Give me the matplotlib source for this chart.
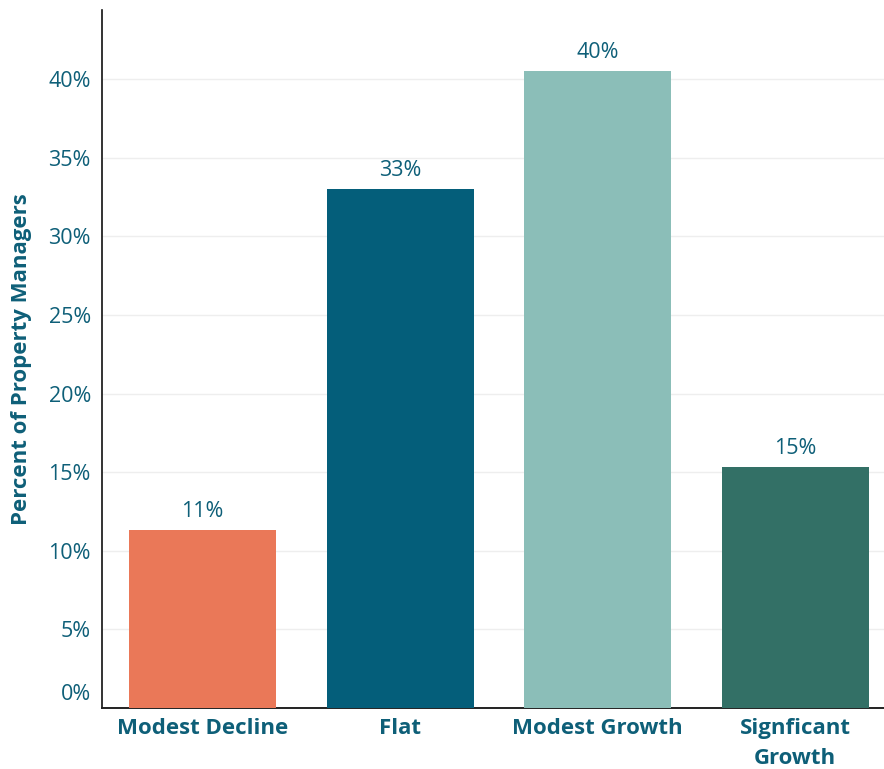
import matplotlib
matplotlib.use("Agg")
import matplotlib.pyplot as plt
import matplotlib.transforms as mtransforms
from matplotlib.ticker import FuncFormatter

plt.rcParams['font.family'] = ['Open Sans', 'DejaVu Sans']

categories = ["Modest Decline", "Flat", "Modest Growth", "Signficant\nGrowth"]
values = [11.3, 33.0, 40.5, 15.3]
colors = ["#EA7858", "#045E7A", "#8BBEB8", "#337066"]
yticks = [0, 5, 10, 15, 20, 25, 30, 35, 40]

text_color = "#0E5F78"

fig = plt.figure(figsize=[8.84, 7.69], dpi=100)
ax = fig.add_axes([102 / 884, 1 - 708 / 769, 782 / 884, 698 / 769])

x = range(len(categories))
bars = ax.bar(x, values, width=0.745, color=colors, zorder=3)

for rect, val in zip(bars, values):
    ax.annotate(f"{val:.0f}%", (rect.get_x() + rect.get_width() / 2, rect.get_height()),
                xytext=(0, 6), textcoords="offset points", ha="center", va="bottom",
                fontsize=15.5, color=text_color)

ax.set_xlim(-0.51, 3.45)
ax.set_ylim(0, 44.4)
ax.set_yticks(yticks)
ax.yaxis.set_major_formatter(FuncFormatter(lambda v, p: f"{v:.0f}%"))
ax.tick_params(axis="y", length=0, pad=8, labelsize=15.5, labelcolor=text_color)
ax.tick_params(axis="x", length=0, pad=7, labelsize=16, labelcolor=text_color)
ax.set_xticks(list(x))
ax.set_xticklabels(categories, fontweight="bold", linespacing=1.55)
for lbl in ax.get_xticklabels():
    lbl.set_verticalalignment("top")

# lift the 0% label off the baseline
zero_lbl = ax.get_yticklabels()[0]
zero_lbl.set_transform(zero_lbl.get_transform() +
                       mtransforms.ScaledTranslation(0, 16 / 100, fig.dpi_scale_trans))

ax.grid(axis="y", color="#EEEEEE", linewidth=1, zorder=0)
ax.spines["top"].set_visible(False)
ax.spines["right"].set_visible(False)
ax.spines["left"].set_color("#111111")
ax.spines["bottom"].set_color("#222222")
ax.spines["left"].set_linewidth(1.2)
ax.spines["bottom"].set_linewidth(1.4)

ax.set_ylabel("Percent of Property Managers", fontsize=16, fontweight="bold",
              color=text_color, labelpad=12)

fig.savefig("out.png", dpi=100)
